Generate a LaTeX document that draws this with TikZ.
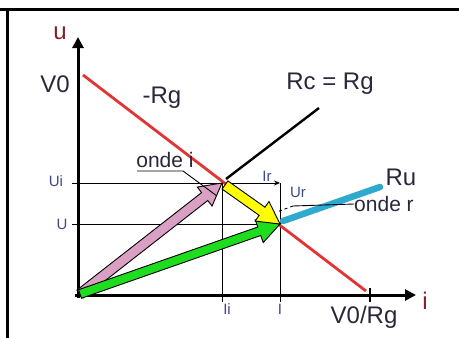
\documentclass[tikz,border=0pt]{standalone}
\usepackage{fontspec}
\setmainfont{Liberation Sans}
\usetikzlibrary{calc,arrows.meta}

\definecolor{linered}{RGB}{226,52,52}
\definecolor{rucyan}{RGB}{45,170,205}
\definecolor{wavepink}{RGB}{218,160,196}
\definecolor{waveyellow}{RGB}{255,255,0}
\definecolor{wavegreen}{RGB}{30,220,30}
\definecolor{labelgray}{RGB}{40,40,58}
\definecolor{labelblue}{RGB}{62,72,135}
\definecolor{axisred}{RGB}{135,30,40}

% fat outlined arrow: from, to, colour, half shaft width
\newcommand{\fatarrow}[4]{%
  \path ($(#2)!22pt!(#1)$) coordinate (hb);
  \filldraw[fill=#3, draw=black, line width=0.9pt, line join=miter]
    ($(#1)!#4!90:(#2)$) -- ($(hb)!#4!90:(#2)$) -- ($(hb)!12pt!90:(#2)$) -- (#2)
    -- ($(hb)!12pt!-90:(#2)$) -- ($(hb)!#4!-90:(#2)$) -- ($(#1)!#4!-90:(#2)$) -- cycle;}

\begin{document}
\begin{tikzpicture}[
    x=1pt, y=-1pt,
    axis/.style={line width=3pt, -{Triangle[length=11pt,width=11pt]}},
    thinline/.style={line width=0.9pt},
    big/.style={font=\fontsize{24}{24}\selectfont, text=labelgray, inner sep=0pt},
    small/.style={font=\fontsize{15}{15}\selectfont, text=labelblue, inner sep=0pt}
]
    \useasboundingbox (0,0) rectangle (459,338);

    % frame
    \draw[line width=3.5pt] (0,9.5) -- (7.5,9.5) -- (459,9.5);
    \draw[line width=3.5pt] (7.5,9.5) -- (7.5,338);

    % points
    \coordinate (O) at (78,295);
    \coordinate (V0) at (83,75);
    \coordinate (V0Rg) at (366,291);
    \coordinate (Pi) at (222,183);
    \coordinate (P) at (280,224);

    % grid lines and ticks
    \draw[thinline] (72,183) -- (Pi);
    \draw[thinline, -{Stealth[length=6pt,width=5pt]}] (Pi) -- (280,183);
    \draw[thinline] (72,224) -- (P);
    \draw[thinline] (Pi) -- (222,302);
    \draw[thinline] (280,183) -- (280,302);
    \draw[line width=1.2pt] (370,288) -- (370,302);

    % characteristics
    \draw[linered, line width=2.8pt] (V0) -- (V0Rg);
    \draw[line width=2.4pt] (226,179) -- (319,108);
    \draw[rucyan, line width=6.5pt, line cap=round] (283,221) -- (380,187);

    % axes
    \draw[axis] (78,298) -- (78,37);
    \draw[axis] (75,295) -- (416,295);

    % waves
    \fatarrow{80,294}{Pi}{wavepink}{5pt}
    \fatarrow{80,294}{P}{wavegreen}{4.5pt}
    \fatarrow{225,185}{P}{waveyellow}{5pt}

    % labels
    \node[big, text=axisred] (lu) at (60,33) {u};
    \node[big, text=axisred] (li) at (425,301) {i};
    \node[big] (lV0) at (55,84) {V0};
    \node[big] (lRg) at (162,98) {-Rg};
    \node[big] (lRc) at (330,84) {Rc = Rg};
    \node[big] (lV0Rg) at (364,317) {V0/Rg};
    \node[big] (lRu) at (401,177) {Ru};
    \node[big, font=\fontsize{21}{21}\selectfont] (ondei) at (165,160) {onde i};
    \node[big, font=\fontsize{21}{21}\selectfont] (onder) at (384,204) {onde r};
    \node[small] (lUi) at (56,181) {Ui};
    \node[small] (lU) at (62,224) {U};
    \node[small] (lIi) at (227,309) {Ii};
    \node[small] (lI) at (280,309) {I};
    \node[small] (lIr) at (267,176) {Ir};
    \node[small] (lUr) at (298,192) {Ur};

    % leaders
    \coordinate (li1) at (137,171);
    \coordinate (li2) at (183,171);
    \coordinate (li3) at (217,196);
    \draw[thinline] (li1) -- (li2) -- (li3);
    \coordinate (lr1) at (293,206);
    \coordinate (lr2) at (277,212);
    \draw[thinline] (onder.west) -- (lr1);
    \draw[thinline, dashed] (lr1) -- (lr2);

\end{tikzpicture}
\end{document}
